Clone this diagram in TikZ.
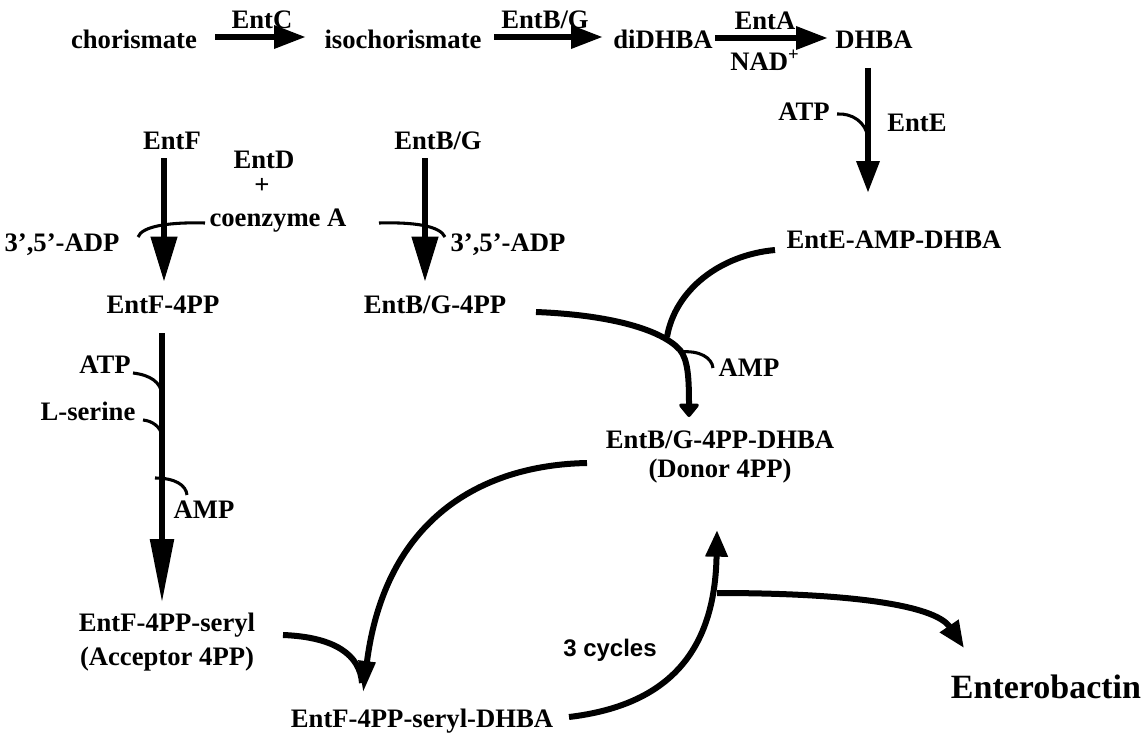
\documentclass[tikz,border=0pt]{standalone}
\usepackage{fontspec}
\setmainfont{Liberation Serif}
\setsansfont{Liberation Sans}
\usetikzlibrary{arrows.meta,calc}
\begin{document}
\begin{tikzpicture}[x=0.75pt,y=-0.75pt,
  lbl/.style={font=\fontsize{20}{22}\selectfont\bfseries, inner sep=0pt, text height=13.2pt, text depth=0pt},
  biglbl/.style={font=\fontsize{25.5}{28}\selectfont\bfseries, inner sep=0pt, text height=16.8pt, text depth=0pt},
  sanslbl/.style={font=\fontsize{18}{20}\sffamily\bfseries, inner sep=0pt, text height=12.9pt, text depth=0pt},
  mainline/.style={line width=4.8pt},
  toparrow/.style={mainline, -{Triangle[length=24pt,width=16.5pt]}},
  downarrow/.style={mainline, -{Triangle[length=34pt,width=19pt]}},
  shortdown/.style={mainline, -{Triangle[length=24pt,width=16.5pt]}},
  longdown/.style={mainline, -{Triangle[length=48pt,width=17pt]}},
  curvearrow/.style={line width=4.5pt, -{Triangle[length=20pt,width=16pt]}},
  narrowarrow/.style={line width=4.5pt, -{Triangle[length=24pt,width=12pt]}},
  stubarrow/.style={line width=4.5pt, -{Triangle[length=11pt,width=17pt,round]}},
  thinline/.style={line width=2.3pt},
  thickline/.style={line width=4.5pt}]
\useasboundingbox (0,0) rectangle (1145,735);

% top row
\node[lbl] (chor) at (134,40) {chorismate};
\node[lbl] (entc) at (262,20) {EntC};
\node[lbl] (iso) at (403,40) {isochorismate};
\node[lbl] (entbga) at (545,20) {EntB/G};
\node[lbl] (di) at (663,40) {diDHBA};
\node[lbl] (enta) at (765,21) {EntA};
\node[lbl] (nad) at (765,62) {NAD\textsuperscript{+}};
\node[lbl] (dhba) at (874,40) {DHBA};
\node[lbl] (atpa) at (804,112) {ATP};
\node[lbl] (ente) at (917,123) {EntE};
\node[lbl] (eamp) at (894,240) {EntE-AMP-DHBA};

% left block
\node[lbl] (entf) at (172,141) {EntF};
\node[lbl] (entd) at (264,160) {EntD};
\node[lbl] (plus) at (262,185) {+};
\node[lbl] (coa) at (278,218) {coenzyme A};
\node[lbl] (adpa) at (62,243) {3’,5’-ADP};
\node[lbl] (entbgb) at (438,141) {EntB/G};
\node[lbl] (adpb) at (508,243) {3’,5’-ADP};
\node[lbl] (ffpp) at (163,305) {EntF-4PP};
\node[lbl] (bgpp) at (435,305) {EntB/G-4PP};
\node[lbl] (atpb) at (105,365) {ATP};
\node[lbl] (lser) at (88,412) {L-serine};
\node[lbl] (ampa) at (204,510) {AMP};
\node[lbl] (seryl) at (167,623) {EntF-4PP-seryl};
\node[lbl] (acc) at (167,657) {(Acceptor 4PP)};

% right block
\node[lbl] (ampb) at (749,368) {AMP};
\node[lbl] (bgd) at (720,440) {EntB/G-4PP-DHBA};
\node[lbl] (donor) at (720,469) {(Donor 4PP)};
\node[lbl] (serdhba) at (422,719) {EntF-4PP-seryl-DHBA};
\node[sanslbl] (cyc) at (610,648) {3 cycles};
\node[biglbl] (entero) at (1046,687) {Enterobactin};

% top row arrows
\draw[toparrow] ($(chor)+(81,-3)$) -- ($(iso)+(-97,-3)$);
\draw[toparrow] ($(iso)+(91,-3)$) -- ($(di)+(-60,-3)$);
\draw[toparrow] ($(di)+(52,-2)$) -- ($(dhba)+(-46,-2)$);

% DHBA -> EntE-AMP-DHBA
\draw[shortdown] ($(dhba)+(-6,28)$) -- ($(eamp)+(-26,-47)$);
\draw[thinline] ($(atpa)+(33,2)$) .. controls (852,113) and (866,122) .. ($(dhba)+(-6,98)$);

% EntF -> EntF-4PP, EntB/G -> EntB/G-4PP
\draw[downarrow] ($(entf)+(-8,17)$) -- ($(ffpp)+(1,-23)$);
\draw[downarrow] ($(entbgb)+(-13,17)$) -- ($(bgpp)+(-10,-23)$);
\draw[thinline] ($(coa)+(-73,5)$) .. controls (170,222) and (142,226) .. ($(adpa)+(76,-6)$);
\draw[thinline] ($(coa)+(101,5)$) .. controls (415,222) and (440,226) .. ($(adpb)+(-63,-6)$);

% EntF-4PP -> EntF-4PP-seryl
\draw[longdown] ($(ffpp)+(-1,28)$) -- ($(seryl)+(-5,-20)$);
\draw[thinline] ($(atpb)+(28,8)$) .. controls (150,375) and (161,382) .. ($(ffpp)+(-1,90)$);
\draw[thinline] ($(lser)+(55,8)$) .. controls (153,421) and (160,427) .. ($(ffpp)+(-1,130)$);
\draw[thinline] ($(ampa)+(-49,-32)$) .. controls (175,478) and (186,485) .. ($(ampa)+(-17,-15)$);

% EntB/G-4PP + EntE-AMP-DHBA -> EntB/G-4PP-DHBA
\draw[stubarrow] ($(bgpp)+(101,7)$) .. controls (612,315) and (662,330) .. (680,350)
   .. controls (688,360) and (689,378) .. ($(bgd)+(-31,-23)$);
\draw[thickline] ($(eamp)+(-119,10)$) .. controls (720,255) and (675,290) .. ($(bgd)+(-53,-103)$);
\draw[thinline] ($(ampb)+(-69,-16)$) .. controls (700,350) and (712,358) .. ($(ampb)+(-36,0)$);

% Donor -> EntF-4PP-seryl-DHBA
\draw[narrowarrow] ($(donor)+(-133,-6)$) .. controls (480,465) and (385,520) .. ($(serdhba)+(-59,-26)$);
\draw[thickline] ($(seryl)+(116,12)$) .. controls (335,637) and (360,655) .. ($(serdhba)+(-60,-36)$);

% 3 cycles back to donor
\draw[curvearrow] ($(serdhba)+(147,-2)$) .. controls (670,705) and (715,650) .. ($(donor)+(-3,61)$);

% to Enterobactin
\draw[curvearrow] ($(donor)+(-3,124)$) .. controls (850,593) and (935,605) .. ($(entero)+(-82,-39)$);
\end{tikzpicture}
\end{document}
